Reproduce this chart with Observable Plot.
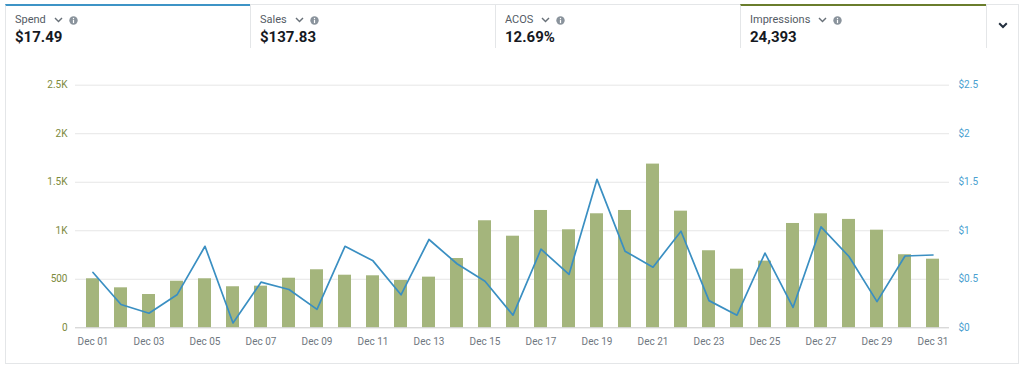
<!DOCTYPE html>
<html>
<head>
<meta charset="utf-8">
<script src="https://cdn.jsdelivr.net/npm/d3@7"></script>
<script src="https://cdn.jsdelivr.net/npm/@observablehq/plot@0.6"></script>
<style>
  html, body { margin: 0; padding: 0; background: #fff; }
  body { width: 1024px; height: 367px; overflow: hidden; position: relative; font-family: Roboto, "Noto Sans", sans-serif; }
  .panel { position: absolute; left: 5px; top: 47px; width: 1014px; height: 317px; border: 1px solid #e4e6e8; box-sizing: border-box; }
  .card { position: absolute; top: 4px; height: 44px; border: 1px solid #e4e6e8; border-bottom: none; box-sizing: border-box; background: #fff; }
  .card.sel-blue { border-top: 2px solid #3d94c6; }
  .card.sel-olive { border-top: 2px solid #6a7d2c; }
  .lab { position: absolute; left: 9px; top: 8px; display: flex; align-items: center; font-size: 11px; color: #545b64; line-height: 14px; height: 14px; }
  .lab .chev { margin-left: 8px; }
  .lab .info { margin-left: 6px; }
  .val { position: absolute; left: 9px; top: 23px; font-size: 15px; font-weight: 700; color: #16191f; line-height: 18px; }
  #chart { position: absolute; left: 0; top: 48px; }
</style>
</head>
<body>
<div class="panel"></div>
<div id="cards"></div>
<div id="chart"></div>
<script>
// ---- data ----
const days = ["Dec 01","Dec 02","Dec 03","Dec 04","Dec 05","Dec 06","Dec 07","Dec 08","Dec 09","Dec 10",
  "Dec 11","Dec 12","Dec 13","Dec 14","Dec 15","Dec 16","Dec 17","Dec 18","Dec 19","Dec 20",
  "Dec 21","Dec 22","Dec 23","Dec 24","Dec 25","Dec 26","Dec 27","Dec 28","Dec 29","Dec 30","Dec 31"];
const impressions = [505, 412, 343, 480, 505, 423, 429, 511, 598, 542,
  536, 488, 522, 714, 1103, 944, 1209, 1010, 1175, 1209,
  1687, 1202, 794, 604, 687, 1075, 1175, 1117, 1006, 753, 707];
const cpc = [0.57, 0.24, 0.15, 0.34, 0.84, 0.05, 0.47, 0.395, 0.19, 0.84,
  0.69, 0.34, 0.91, 0.66, 0.48, 0.13, 0.81, 0.55, 1.53, 0.79,
  0.625, 0.995, 0.28, 0.13, 0.77, 0.21, 1.04, 0.735, 0.27, 0.74, 0.75];
const xTickLabels = ["Dec 01","Dec 03","Dec 05","Dec 07","Dec 09","Dec 11","Dec 13","Dec 15",
  "Dec 17","Dec 19","Dec 21","Dec 23","Dec 25","Dec 27","Dec 29","Dec 31"];
const leftTicks = [0, 500, 1000, 1500, 2000, 2500];
const leftTickLabels = ["0", "500", "1K", "1.5K", "2K", "2.5K"];
const rightTicks = [0, 0.5, 1, 1.5, 2, 2.5];
const rightTickLabels = ["$0", "$0.5", "$1", "$1.5", "$2", "$2.5"];
const metricNames = ["Spend", "Sales", "ACOS", "Impressions"];
const metricValues = ["$17.49", "$137.83", "12.69%", "24,393"];
const axisRatio = 2500 / 2.5; // right axis ($) mapped onto left axis (impressions)

// ---- header cards ----
const chevSvg = '<svg class="chev" width="9" height="6" viewBox="0 0 9 6"><path d="M1 1 L4.5 4.6 L8 1" stroke="#687078" stroke-width="1.4" fill="none"/></svg>';
const infoSvg = '<svg class="info" width="9" height="9" viewBox="0 0 9 9"><circle cx="4.5" cy="4.5" r="4.2" fill="#8a939c"/><rect x="3.9" y="3.8" width="1.2" height="3.3" fill="#fff"/><rect x="3.9" y="1.9" width="1.2" height="1.2" fill="#fff"/></svg>';
const cardLefts = [5, 250, 495, 740];
const cardWidths = [246, 246, 246, 247];
const cardClass = ["sel-blue", "", "", "sel-olive"];
const cardsEl = document.getElementById("cards");
metricNames.forEach((name, i) => {
  const c = document.createElement("div");
  c.className = "card " + cardClass[i];
  c.style.left = cardLefts[i] + "px";
  c.style.width = cardWidths[i] + "px";
  c.innerHTML = `<div class="lab" style="top:${cardClass[i] ? 7 : 8}px">${name}${chevSvg}${infoSvg}</div><div class="val" style="top:${cardClass[i] ? 22 : 23}px">${metricValues[i]}</div>`;
  cardsEl.appendChild(c);
});
const more = document.createElement("div");
more.className = "card";
more.style.left = "986px";
more.style.width = "33px";
more.style.borderRight = "1px solid #e4e6e8";
more.innerHTML = '<svg style="position:absolute;left:11px;top:17px" width="10" height="7" viewBox="0 0 10 7"><path d="M1.2 1.3 L5 5 L8.8 1.3" stroke="#232f3e" stroke-width="2" fill="none"/></svg>';
cardsEl.appendChild(more);

// ---- chart ----
const data = days.map((d, i) => ({day: d, imp: impressions[i], cpc: cpc[i]}));

const chart = Plot.plot({
  width: 1024,
  height: 316,
  marginLeft: 75,
  marginRight: 75,
  marginTop: 36.7,
  marginBottom: 36.7,
  style: {fontFamily: "Roboto, sans-serif", fontSize: "10px", background: "transparent", overflow: "visible"},
  x: {type: "band", domain: days, paddingInner: 0.54, paddingOuter: 0.294},
  y: {domain: [0, 2500]},
  marks: [
    Plot.gridY(leftTicks.slice(1), {stroke: "#e6e6e6", strokeOpacity: 1}),
    Plot.barY(data, {x: "day", y: "imp", fill: "#a4b57c"}),
    Plot.ruleY([0], {stroke: "#c9c9c9"}),
    Plot.line(data, {x: "day", y: d => d.cpc * axisRatio, stroke: "#3a8fc2", strokeWidth: 1.7, curve: "linear"}),
    Plot.axisX({ticks: xTickLabels, tickSize: 0, tickPadding: 10, fill: "#6f7780", label: null}),
    Plot.axisY({anchor: "left", ticks: leftTicks, tickFormat: d => leftTickLabels[leftTicks.indexOf(d)],
      tickSize: 0, tickPadding: 8, fill: "#7c8a3c", label: null}),
    Plot.axisY({anchor: "right", ticks: rightTicks.map(t => t * axisRatio),
      tickFormat: d => rightTickLabels[rightTicks.indexOf(d / axisRatio)],
      tickSize: 0, tickPadding: 9, fill: "#4a9fd0", label: null})
  ]
});
document.getElementById("chart").appendChild(chart);
</script>
</body>
</html>
